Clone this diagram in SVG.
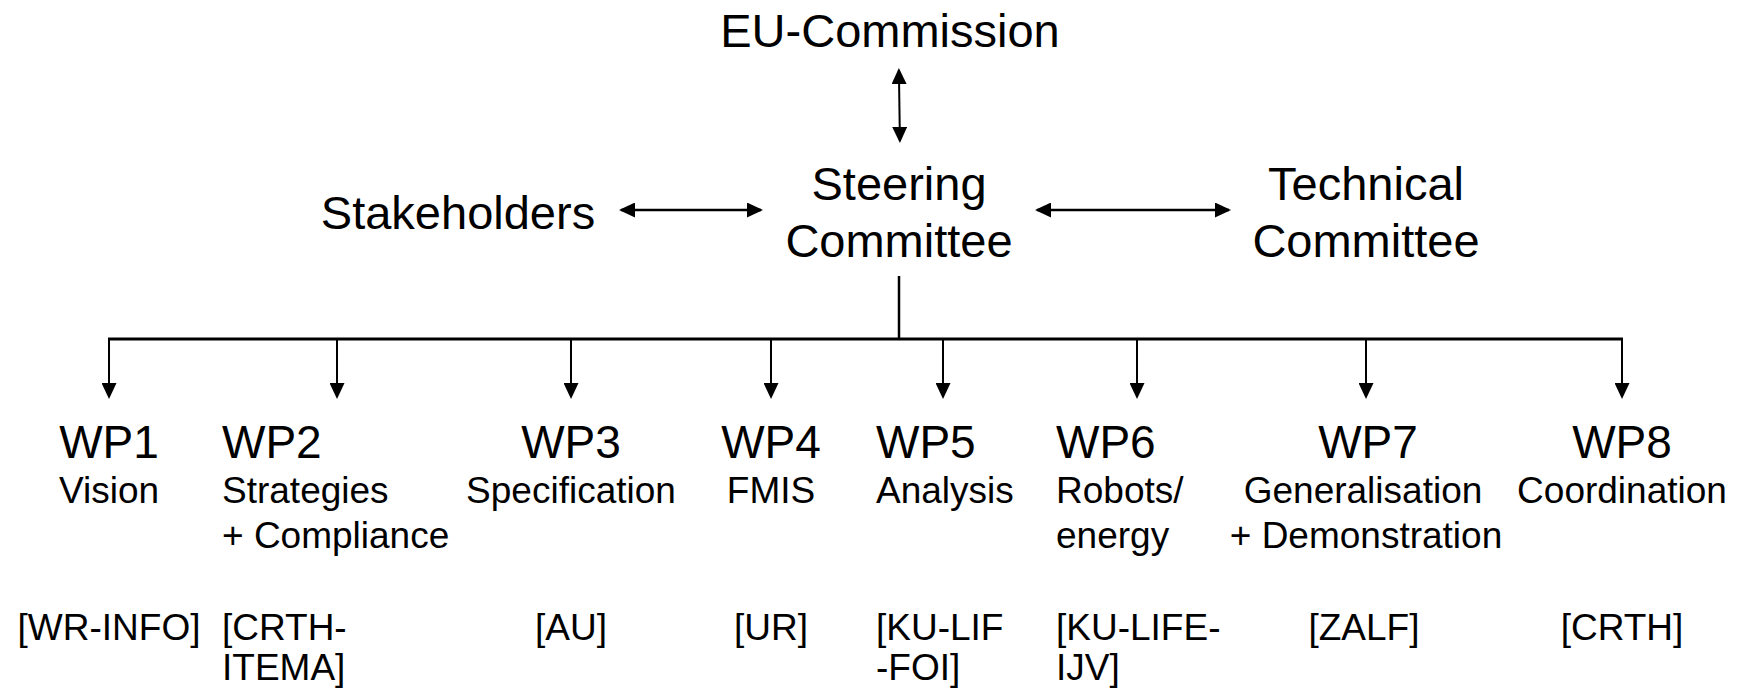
<svg xmlns="http://www.w3.org/2000/svg" width="1742" height="688" viewBox="0 0 1742 688">
<style>
text { font-family: "Liberation Sans", Arial, Helvetica, sans-serif; fill: #000; }
.big { font-size: 47px; }
.wp { font-size: 46px; }
.sm { font-size: 37px; }
.c { text-anchor: middle; }
.l { text-anchor: start; }
.conn { stroke: #000; fill: none; }
.thin { stroke-width: 2; }
.mid { stroke-width: 2.5; }
.bus { stroke-width: 3; }
</style>
<defs>
<marker id="ah" viewBox="0 0 16 15" refX="14" refY="7.5" markerWidth="16" markerHeight="15" markerUnits="userSpaceOnUse" orient="auto-start-reverse">
<path d="M0,0 L16,7.5 L0,15 z" fill="#000"/>
</marker>
</defs>
<rect width="1742" height="688" fill="#fff"/>
<g id="connectors">
<line class="conn thin" x1="898.9" y1="70" x2="899.9" y2="141" marker-start="url(#ah)" marker-end="url(#ah)"/>
<line class="conn mid" x1="621" y1="210" x2="761" y2="210" marker-start="url(#ah)" marker-end="url(#ah)"/>
<line class="conn mid" x1="1037" y1="210" x2="1229" y2="210" marker-start="url(#ah)" marker-end="url(#ah)"/>
<line class="conn mid" x1="899" y1="276" x2="899" y2="339"/>
<line class="conn bus" x1="108" y1="339" x2="1623" y2="339"/>
<line class="conn thin" x1="109" y1="339" x2="109" y2="397" marker-end="url(#ah)"/>
<line class="conn thin" x1="337" y1="339" x2="337" y2="397" marker-end="url(#ah)"/>
<line class="conn thin" x1="571" y1="339" x2="571" y2="397" marker-end="url(#ah)"/>
<line class="conn thin" x1="771" y1="339" x2="771" y2="397" marker-end="url(#ah)"/>
<line class="conn thin" x1="943" y1="339" x2="943" y2="397" marker-end="url(#ah)"/>
<line class="conn thin" x1="1137" y1="339" x2="1137" y2="397" marker-end="url(#ah)"/>
<line class="conn thin" x1="1366" y1="339" x2="1366" y2="397" marker-end="url(#ah)"/>
<line class="conn thin" x1="1622" y1="339" x2="1622" y2="397" marker-end="url(#ah)"/>
</g>
<g id="eu-commission"><text class="big c" x="890" y="47">EU-Commission</text></g>
<g id="stakeholders"><text class="big c" x="458" y="229">Stakeholders</text></g>
<g id="steering-committee"><text class="big c" x="899" y="200">Steering</text><text class="big c" x="899" y="257">Committee</text></g>
<g id="technical-committee"><text class="big c" x="1366" y="200">Technical</text><text class="big c" x="1366" y="257">Committee</text></g>
<g id="wp1"><text class="wp c" x="109" y="458">WP1</text><text class="sm c" x="109" y="503">Vision</text><text class="sm c" x="109" y="640">[WR-INFO]</text></g>
<g id="wp2"><text class="wp l" x="222" y="458">WP2</text><text class="sm l" x="222" y="503">Strategies</text><text class="sm l" x="222" y="548">+ Compliance</text><text class="sm l" x="222" y="640">[CRTH-</text><text class="sm l" x="222" y="680">ITEMA]</text></g>
<g id="wp3"><text class="wp c" x="571" y="458">WP3</text><text class="sm c" x="571" y="503">Specification</text><text class="sm c" x="571" y="640">[AU]</text></g>
<g id="wp4"><text class="wp c" x="771" y="458">WP4</text><text class="sm c" x="771" y="503">FMIS</text><text class="sm c" x="771" y="640">[UR]</text></g>
<g id="wp5"><text class="wp l" x="876" y="458">WP5</text><text class="sm l" x="876" y="503">Analysis</text><text class="sm l" x="876" y="640">[KU-LIF</text><text class="sm l" x="876" y="680">-FOI]</text></g>
<g id="wp6"><text class="wp l" x="1056" y="458">WP6</text><text class="sm l" x="1056" y="503">Robots/</text><text class="sm l" x="1056" y="548">energy</text><text class="sm l" x="1056" y="640">[KU-LIFE-</text><text class="sm l" x="1056" y="680">IJV]</text></g>
<g id="wp7"><text class="wp c" x="1368" y="458">WP7</text><text class="sm c" x="1363" y="503">Generalisation</text><text class="sm c" x="1366" y="548">+ Demonstration</text><text class="sm c" x="1364" y="640">[ZALF]</text></g>
<g id="wp8"><text class="wp c" x="1622" y="458">WP8</text><text class="sm c" x="1622" y="503">Coordination</text><text class="sm c" x="1622" y="640">[CRTH]</text></g>
</svg>
